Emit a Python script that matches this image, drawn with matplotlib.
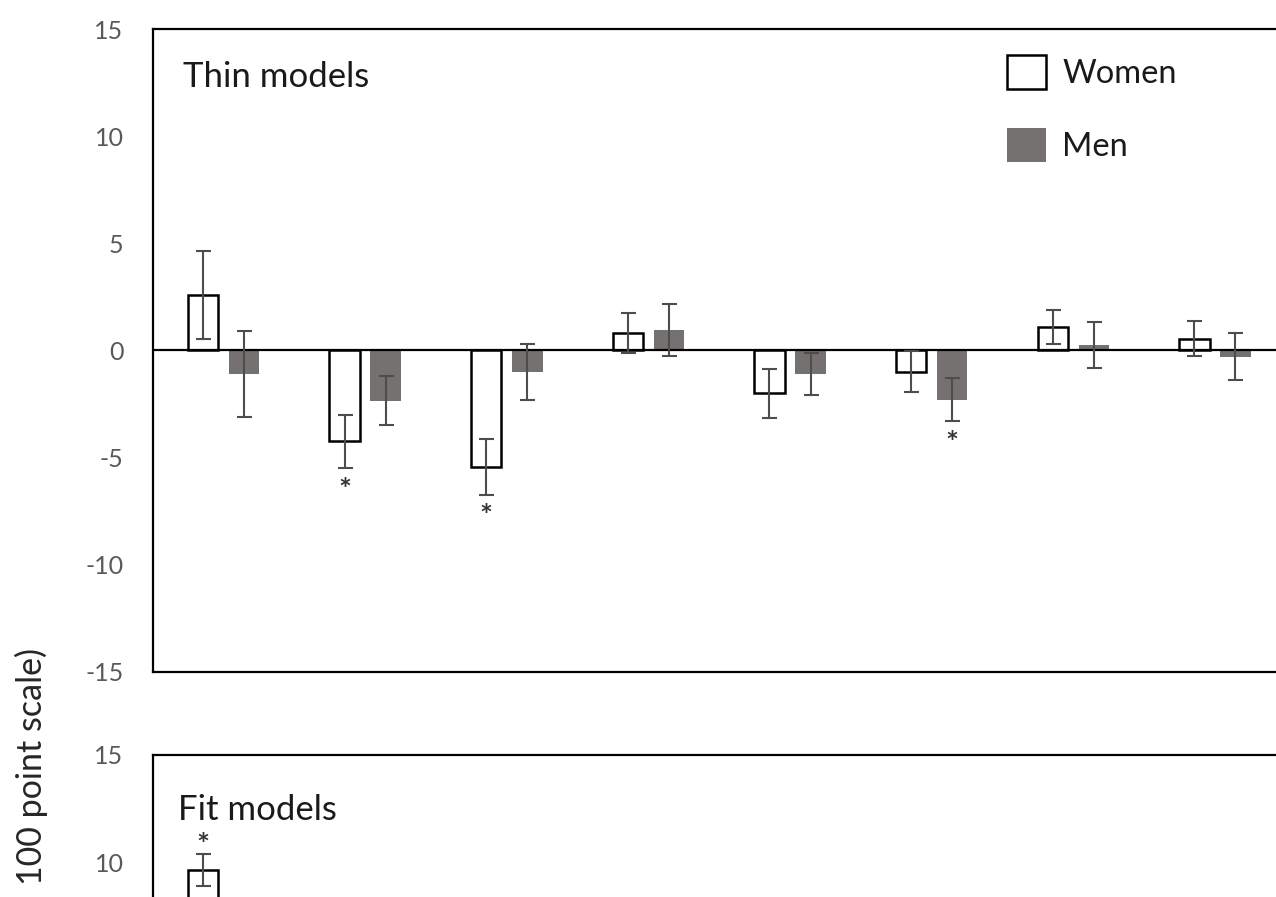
import numpy as np
import matplotlib
matplotlib.use("Agg")
import matplotlib.pyplot as plt
from matplotlib.patches import Patch

plt.rcParams['font.family'] = ['Lato', 'DejaVu Sans']
plt.rcParams['axes.unicode_minus'] = False

# thin models panel (change on 0-100 scale)
thin_women = [2.6, -4.25, -5.45, 0.8, -2.0, -1.0, 1.1, 0.55]
thin_women_err = [2.05, 1.25, 1.3, 0.93, 1.15, 0.95, 0.8, 0.8]
thin_men = [-1.1, -2.35, -1.0, 0.95, -1.1, -2.3, 0.25, -0.3]
thin_men_err = [2.0, 1.15, 1.3, 1.2, 0.97, 1.0, 1.08, 1.1]
thin_star_women = [1, 2]
thin_star_men = [5]

# fit models panel, only the first bar is inside the crop
fit_women = [9.65]
fit_women_err = [0.75]
fit_star_women = [0]

yticks = [-15, -10, -5, 0, 5, 10, 15]
fit_yticks = [10, 15]   # the rest fall below the crop
labels = ['Women', 'Men']

W, H = 1276, 897
fig = plt.figure(figsize=(W / 100, H / 100), dpi=100)

left = 152.7 / W
width = 1133 / W
ax1 = fig.add_axes([left, 1 - 671.7 / H, width, 642.7 / H])
ax2 = fig.add_axes([left, 1 - 1397.7 / H, width, 642.7 / H])

off = 0.145
bw = 0.215
men_col = '#767171'
err_col = '#4d4d4d'
star_col = '#333333'
ekw = dict(fmt='none', ecolor=err_col, elinewidth=1.5, capsize=5.4, capthick=1.5, zorder=5)


def style(ax, title, ticks, ty, tx):
    ax.set_xlim(-0.5, 7.5)
    ax.set_ylim(-15, 15)
    ax.set_yticks(ticks)
    ax.tick_params(axis='y', length=0, pad=21, labelsize=18, labelcolor='#595959')
    ax.set_xticks([])
    for s in ax.spines.values():
        s.set_linewidth(1.6)
        s.set_color('black')
    ax.axhline(0, color='black', lw=1.6, zorder=4)
    ax.text(tx, ty, title, transform=ax.transAxes, fontsize=25,
            color='#1a1a1a', va='center', ha='left')


def star(ax, xpos, ypos):
    ax.text(xpos, ypos, '*', ha='center', va='center', fontsize=22, color=star_col,
            fontweight='bold')


x = np.arange(len(thin_women))
ax1.bar(x - off, thin_women, bw, color='white', edgecolor='black', lw=1.8, zorder=3)
ax1.bar(x + off, thin_men, bw, color=men_col, edgecolor='none', zorder=3)
ax1.errorbar(x - off, thin_women, yerr=thin_women_err, **ekw)
ax1.errorbar(x + off, thin_men, yerr=thin_men_err, **ekw)
for i in thin_star_women:
    star(ax1, i - off, thin_women[i] - thin_women_err[i] - 1.05)
for i in thin_star_men:
    star(ax1, i + off, thin_men[i] - thin_men_err[i] - 1.05)
style(ax1, 'Thin models', yticks, 0.925, 0.027)

handles = [Patch(facecolor='white', edgecolor='black', lw=1.8),
           Patch(facecolor=men_col, edgecolor='none')]
ax1.legend(handles, labels, loc='upper left', bbox_to_anchor=(0.754, 0.959),
           frameon=False, fontsize=23.5, handlelength=1.2, handleheight=1.2,
           handletextpad=0.5, labelspacing=1.2, borderpad=0, borderaxespad=0,
           labelcolor='#1a1a1a')

xf = np.arange(len(fit_women))
ax2.bar(xf - off, fit_women, bw, color='white', edgecolor='black', lw=1.8, zorder=3)
ax2.errorbar(xf - off, fit_women, yerr=fit_women_err, **ekw)
for i in fit_star_women:
    star(ax2, i - off, fit_women[i] + fit_women_err[i] + 0.35)
style(ax2, 'Fit models', fit_yticks, 0.915, 0.022)

fig.text(31 / W, 1 - 648 / H, '100 point scale)', rotation=90, ha='center', va='top',
         fontsize=24.5, color='#262626')

fig.savefig('out.png', dpi=100)
